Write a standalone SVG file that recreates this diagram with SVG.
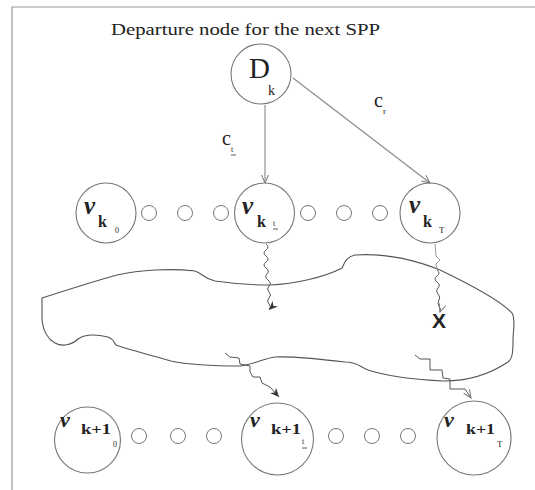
<svg xmlns="http://www.w3.org/2000/svg" width="535" height="490" viewBox="0 0 535 490">
  <style>
    .frame { stroke: #9a9a9a; stroke-width: 1.2; fill: none; }
    .big { fill: none; stroke: #777; stroke-width: 1.1; }
    .dot { fill: none; stroke: #777; stroke-width: 1; }
    .edge { fill: none; stroke: #888; stroke-width: 1.1; }
    .wave { fill: none; stroke: #555; stroke-width: 1; }
    .faint { fill: none; stroke: #999; stroke-width: 1; }
    .blob { fill: none; stroke: #555; stroke-width: 1.1; }
    .serif { font-family: "Liberation Serif", "Times New Roman", serif; fill: #222; }
    .v { font-family: "Liberation Serif", serif; font-style: italic; font-weight: bold; fill: #222; }
    .kb { font-family: "Liberation Serif", serif; font-weight: bold; fill: #222; }
    .sub { font-family: "Liberation Serif", serif; fill: #222; }
  </style>
  <defs>
    <marker id="open" markerUnits="userSpaceOnUse" markerWidth="12" markerHeight="10" refX="9" refY="4" orient="auto">
      <path d="M1,0.5 L9,4 L1,7.5" fill="none" stroke="#777" stroke-width="1"/>
    </marker>
    <marker id="solid" markerUnits="userSpaceOnUse" markerWidth="12" markerHeight="10" refX="9" refY="4" orient="auto">
      <path d="M0,0 L9,4 L0,8 L3,4 z" fill="#333"/>
    </marker>
  </defs>

  <rect width="535" height="490" fill="#fff"/>
  <!-- frame -->
  <path class="frame" d="M12,490 L12,7 L535,7"/>

  <!-- title -->
  <text class="serif" x="111" y="35" font-size="17" textLength="269" lengthAdjust="spacingAndGlyphs">Departure node for the next SPP</text>

  <!-- region of uncertainty -->
  <path id="region" class="blob" d="M42,298 C70,289 95,281 117,275 C140,270 170,268 195,271 C202,273 204,279 215,281 C235,284 255,285 270,285 C295,284 325,277 342,268 C345,262 346,257 355,255 C385,253 415,260 440,270 C465,282 500,300 512,313 C516,320 513,330 513,340 C513,350 513,358 508,362 C490,374 470,381 444,381 C420,380 390,377 368,370 C360,367 358,362 345,362 C320,359 295,356 275,357 C265,358 258,363 241,366 C215,366 185,364 171,361 C150,355 130,350 116,345 C114,343 114,339 108,337 C95,334 85,334 78,339 C72,345 62,347 55,343 C46,338 43,330 42,320 Z"/>

  <!-- connectors -->
  <g id="connectors">
    <line class="edge" x1="265" y1="105" x2="265" y2="183" marker-end="url(#open)"/>
    <line class="edge" x1="293" y1="78" x2="430" y2="183" marker-end="url(#open)"/>
    <path class="wave" d="M266,244 q4,3 0,6 t0,6 t0,6 t0,6 t1,6 t1,6 t1,6 t0,6 t0,6 t0,6 t0,6" marker-end="url(#solid)"/>
    <path class="faint" d="M435,244 L436,256 L440,260 L436,264 L437,269"/>
    <path class="wave" d="M437,270 q4,3 0,6 t0,6 t1,6 t0,6 t1,6 t0,6 t1,6" marker-end="url(#open)"/>
    <path class="wave" d="M225,353 L230,357 L239,358 L240,364 L250,366 L250,372 L253,377 L260,377 L262,383 L270,387 L279,397" marker-end="url(#solid)"/>
    <path class="wave" d="M415,355 L420,359 L430,359 L430,370 L442,370 L443,378 L450,379 L450,389 L465,389 L471,398" marker-end="url(#open)"/>
  </g>

  <!-- departure node -->
  <g id="D_k">
    <circle class="big" cx="261" cy="74" r="30"/>
    <text class="serif" x="249" y="78" font-size="29">D</text>
    <text class="serif" x="268" y="95" font-size="14">k</text>
  </g>

  <!-- edge labels -->
  <g id="label-ct">
    <text class="serif" x="222" y="145" font-size="20">c</text>
    <text class="sub" x="231" y="152" font-size="8">t</text>
    <line x1="231" y1="155" x2="236" y2="155" stroke="#333" stroke-width="0.8"/>
  </g>
  <g id="label-cr">
    <text class="serif" x="374" y="107" font-size="20">c</text>
    <text class="sub" x="383" y="114" font-size="9">r</text>
  </g>

  <!-- row k -->
  <g id="v_k0">
    <circle class="big" cx="106" cy="213" r="30"/>
    <text class="v" x="84" y="214" font-size="25">v</text>
    <text class="kb" x="98" y="227" font-size="16">k</text>
    <text class="sub" x="115" y="233" font-size="8">0</text>
  </g>
  <g id="dots-k-left">
    <circle class="dot" cx="149" cy="213" r="7.5"/>
    <circle class="dot" cx="185" cy="213" r="7.5"/>
    <circle class="dot" cx="221" cy="213" r="7.5"/>
  </g>
  <g id="v_kt">
    <circle class="big" cx="264.5" cy="213" r="30"/>
    <text class="v" x="242" y="214" font-size="25">v</text>
    <text class="kb" x="257" y="227" font-size="16">k</text>
    <text class="sub" x="273" y="226" font-size="8">t</text>
    <line x1="273" y1="229" x2="278" y2="229" stroke="#333" stroke-width="0.8"/>
  </g>
  <g id="dots-k-right">
    <circle class="dot" cx="308" cy="213" r="7.5"/>
    <circle class="dot" cx="344" cy="213" r="7.5"/>
    <circle class="dot" cx="380" cy="213" r="7.5"/>
  </g>
  <g id="v_kT">
    <circle class="big" cx="430" cy="213" r="30"/>
    <text class="v" x="409" y="213" font-size="25">v</text>
    <text class="kb" x="423" y="227" font-size="16">k</text>
    <text class="sub" x="439" y="233" font-size="9">T</text>
  </g>

  <!-- blocked marker -->
  <text id="blocked" x="439" y="328" font-family="Liberation Sans, Arial, sans-serif" font-size="21" font-weight="bold" fill="#222" text-anchor="middle">X</text>

  <!-- row k+1 -->
  <g id="v_k1_0">
    <circle class="big" cx="87.5" cy="440" r="33"/>
    <text class="v" x="60" y="427" font-size="22">v</text>
    <text class="kb" x="81" y="434" font-size="15" textLength="30" lengthAdjust="spacingAndGlyphs">k+1</text>
    <text class="sub" x="113" y="447" font-size="8">0</text>
  </g>
  <g id="dots-k1-left">
    <circle class="dot" cx="139" cy="436" r="7.5"/>
    <circle class="dot" cx="178" cy="436" r="7.5"/>
    <circle class="dot" cx="214" cy="436" r="7.5"/>
  </g>
  <g id="v_k1_t">
    <circle class="big" cx="277.5" cy="439" r="36"/>
    <text class="v" x="250" y="427" font-size="22">v</text>
    <text class="kb" x="271" y="434" font-size="15" textLength="30" lengthAdjust="spacingAndGlyphs">k+1</text>
    <text class="sub" x="302" y="444" font-size="8">t</text>
    <line x1="302" y1="448" x2="307" y2="448" stroke="#333" stroke-width="0.8"/>
  </g>
  <g id="dots-k1-right">
    <circle class="dot" cx="336" cy="436" r="7.5"/>
    <circle class="dot" cx="372" cy="436" r="7.5"/>
    <circle class="dot" cx="408" cy="436" r="7.5"/>
  </g>
  <g id="v_k1_T">
    <circle class="big" cx="474" cy="438" r="37"/>
    <text class="v" x="444" y="427" font-size="22">v</text>
    <text class="kb" x="466" y="434" font-size="15" textLength="29" lengthAdjust="spacingAndGlyphs">k+1</text>
    <text class="sub" x="497" y="447" font-size="9">T</text>
  </g>
</svg>
